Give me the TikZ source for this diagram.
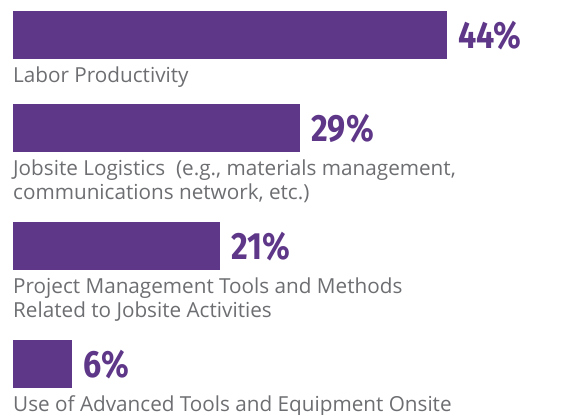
\documentclass[tikz,border=0pt]{standalone}
\usepackage{fontspec}
\setmainfont{Open Sans}
\newfontfamily\pctfont[FakeStretch=0.85]{Fira Sans}
\usetikzlibrary{positioning}
\definecolor{barpurple}{HTML}{5F3789}
\definecolor{labelgray}{HTML}{6D6E71}
\tikzset{
    bar/.style = {fill = barpurple, inner sep = 0, minimum height = 48pt, anchor = north west},
    pct/.style = {text = barpurple, font = \pctfont\bfseries\fontsize{38}{38}\selectfont, inner sep = 0},
    lbl/.style = {text = labelgray, font = \fontsize{20.7}{24}\selectfont, inner sep = 0, align = left},
}
\begin{document}
\begin{tikzpicture}[x = 1pt, y = -1pt]
    \useasboundingbox (0,0) rectangle (565,415);

    % labor productivity
    \node [bar, minimum width = 434pt] (labor) at (13,11) {};
    \node [pct, right = 11pt of labor] (laborpct) {44\%};
    \node [lbl, below right = 7pt and 0pt of labor.south west] (laborlbl) {Labor Productivity};

    % jobsite logistics
    \node [bar, minimum width = 287pt] (logistics) at (13,104) {};
    \node [pct, right = 11pt of logistics] (logisticspct) {29\%};
    \node [lbl, below right = 7pt and 0pt of logistics.south west] (logisticslbl)
        {Jobsite Logistics \ (e.g., materials management,\\communications network, etc.)};

    % project management
    \node [bar, minimum width = 207pt] (projmgmt) at (13,222) {};
    \node [pct, right = 11pt of projmgmt] (projmgmtpct) {21\%};
    \node [lbl, below right = 7pt and 0pt of projmgmt.south west] (projmgmtlbl)
        {Project Management Tools and Methods\\Related to Jobsite Activities};

    % advanced tools
    \node [bar, minimum width = 59pt] (tools) at (13,340) {};
    \node [pct, right = 11pt of tools] (toolspct) {6\%};
    \node [lbl, below right = 7pt and 0pt of tools.south west] (toolslbl)
        {Use of Advanced Tools and Equipment Onsite};
\end{tikzpicture}
\end{document}
